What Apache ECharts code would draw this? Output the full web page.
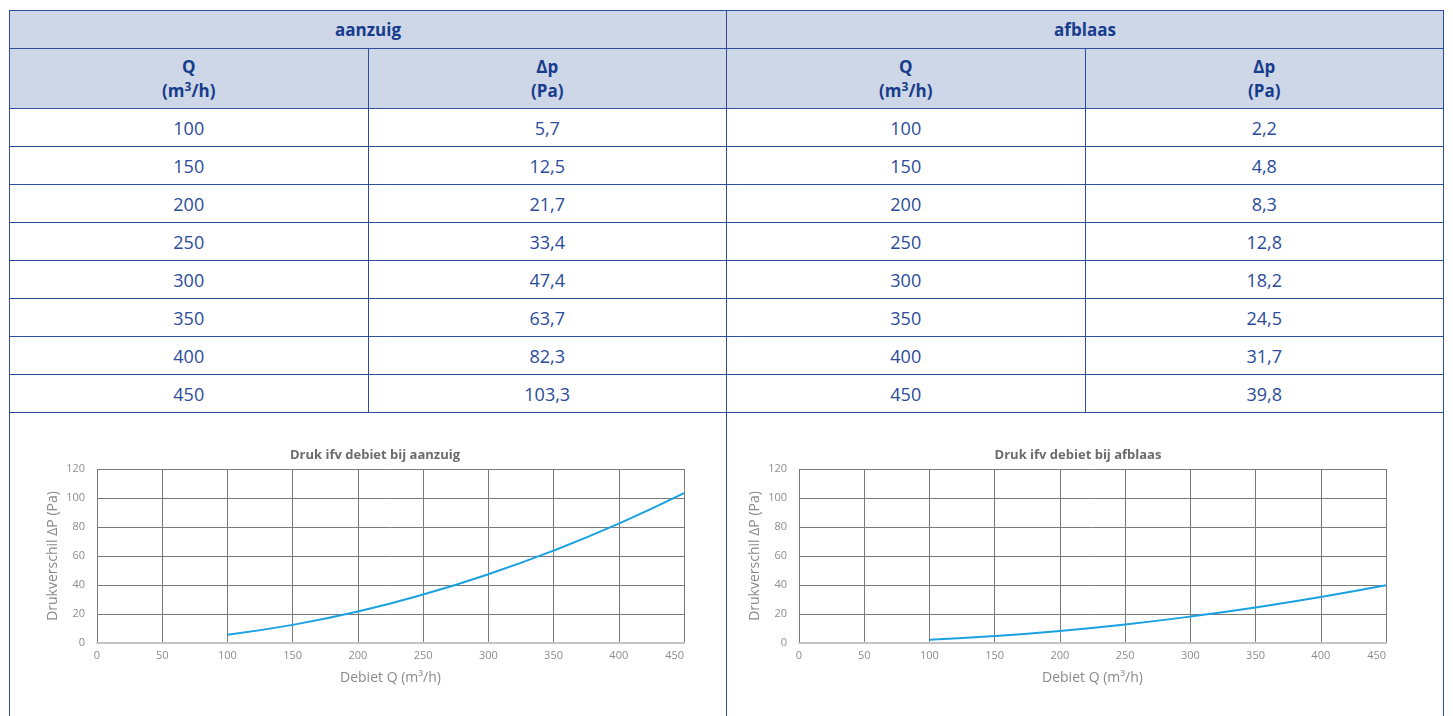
<!DOCTYPE html>
<html>
<head>
<meta charset="utf-8">
<script src="https://cdn.jsdelivr.net/npm/echarts@6/dist/echarts.min.js"></script>
<style>
  html, body { margin: 0; padding: 0; background: #fff; width: 1453px; height: 716px; overflow: hidden; }
  #wrap { position: relative; width: 1453px; height: 716px; overflow: hidden; }
  table { position: absolute; left: 9px; top: 10px; width: 1435px; border-collapse: collapse; table-layout: fixed;
          font-family: "Open Sans", "Noto Sans", sans-serif; }
  td, th { border: 1px solid #2c4e9f; text-align: center; padding: 0; }
  th { background: #cdd7e7; color: #173c8c; font-weight: bold; font-size: 17px; }
  tr.h1 th { height: 37px; }
  tr.h2 th { height: 59px; line-height: 24px; }
  td { color: #2b4b9b; font-size: 18px; height: 37px; }
  td.chartcell { height: 330px; background: transparent; }
  sup { font-size: 12px; vertical-align: 6px; line-height: 0; }
  #chart { position: absolute; left: 0; top: 0; width: 1453px; height: 716px; z-index: 2; }
</style>
</head>
<body>
<div id="wrap">
  <table id="tbl"></table>
  <div id="chart"></div>
</div>
<script>
// ---- data ----
var flowQ = [100, 150, 200, 250, 300, 350, 400, 450];
var aanzuigDp = [5.7, 12.5, 21.7, 33.4, 47.4, 63.7, 82.3, 103.3];
var afblaasDp = [2.2, 4.8, 8.3, 12.8, 18.2, 24.5, 31.7, 39.8];
var xTicks = [0, 50, 100, 150, 200, 250, 300, 350, 400, 450];
var yTicks = [0, 20, 40, 60, 80, 100, 120];
var groupNames = ['aanzuig', 'afblaas'];
var chartTitles = ['Druk ifv debiet bij aanzuig', 'Druk ifv debiet bij afblaas'];
var xAxisName = 'Debiet Q (m³/h)';
var yAxisName = 'Drukverschil ΔP (Pa)';

// ---- table ----
function fmt(v) { return v.toFixed(1).replace('.', ','); }
var html = '';
html += '<tr class="h1"><th colspan="2">' + groupNames[0] + '</th><th colspan="2">' + groupNames[1] + '</th></tr>';
var qHead = 'Q<br>(m<sup>3</sup>/h)';
var pHead = 'Δp<br>(Pa)';
html += '<tr class="h2"><th>' + qHead + '</th><th>' + pHead + '</th><th>' + qHead + '</th><th>' + pHead + '</th></tr>';
for (var i = 0; i < flowQ.length; i++) {
  html += '<tr><td>' + flowQ[i] + '</td><td>' + fmt(aanzuigDp[i]) + '</td><td>' + flowQ[i] + '</td><td>' + fmt(afblaasDp[i]) + '</td></tr>';
}
html += '<tr><td class="chartcell" colspan="2"></td><td class="chartcell" colspan="2"></td></tr>';
document.getElementById('tbl').innerHTML = html;

// ---- charts ----
var chart = echarts.init(document.getElementById('chart'), null, { renderer: 'canvas' });
var font = '"Open Sans", "Noto Sans", sans-serif';
var gridDefs = [
  { left: 97, top: 469, width: 587, height: 174 },
  { left: 799, top: 469, width: 587, height: 174 }
];
var titleCenters = [370, 1073];
function xAxisDef(idx) {
  return {
    type: 'value', gridIndex: idx,
    min: xTicks[0], max: xTicks[xTicks.length - 1], interval: xTicks[1] - xTicks[0],
    name: xAxisName, nameLocation: 'middle', nameGap: 28,
    nameTextStyle: { color: '#8a8a8a', fontSize: 14, fontFamily: font },
    axisLine: { show: true, lineStyle: { color: '#c4c4c4', width: 2 } },
    axisTick: { show: false },
    axisLabel: { color: '#8c8c8c', fontSize: 11, fontFamily: font, margin: 7, alignMaxLabel: 'right' },
    splitLine: { show: true, showMinLine: true, showMaxLine: true, lineStyle: { color: '#7a7a7a', width: 1 } }
  };
}
function yAxisDef(idx) {
  return {
    type: 'value', gridIndex: idx,
    min: yTicks[0], max: yTicks[yTicks.length - 1], interval: yTicks[1] - yTicks[0],
    name: yAxisName, nameLocation: 'middle', nameGap: 37,
    nameTextStyle: { color: '#8a8a8a', fontSize: 14, fontFamily: font },
    axisLine: { show: false },
    axisTick: { show: false },
    axisLabel: { color: '#8c8c8c', fontSize: 11, fontFamily: font, margin: 12 },
    splitLine: { show: true, showMinLine: false, showMaxLine: true, lineStyle: { color: '#7a7a7a', width: 1 } }
  };
}
function pairs(ys) { return flowQ.map(function (q, i) { return [q, ys[i]]; }); }
chart.setOption({
  animation: false,
  backgroundColor: 'transparent',
  title: chartTitles.map(function (t, i) {
    return { text: t, left: titleCenters[i], top: 444, textAlign: 'center',
             textStyle: { color: '#6b6b6b', fontSize: 13, fontWeight: 'bold', fontFamily: font } };
  }),
  grid: gridDefs,
  xAxis: [xAxisDef(0), xAxisDef(1)],
  yAxis: [yAxisDef(0), yAxisDef(1)],
  series: [
    { type: 'line', xAxisIndex: 0, yAxisIndex: 0, data: pairs(aanzuigDp), smooth: true, showSymbol: false,
      lineStyle: { color: '#1ba1e2', width: 2 } },
    { type: 'line', xAxisIndex: 1, yAxisIndex: 1, data: pairs(afblaasDp), smooth: true, showSymbol: false,
      lineStyle: { color: '#1ba1e2', width: 2 } }
  ]
});
</script>
</body>
</html>
